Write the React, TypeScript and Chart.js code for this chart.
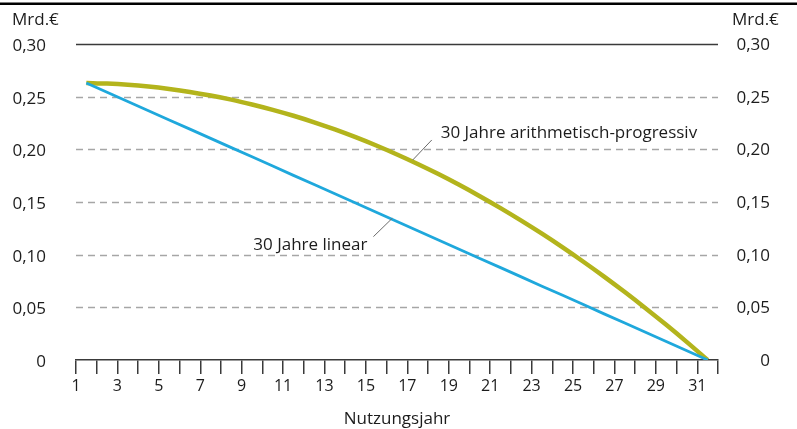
import React, { useEffect, useRef } from "react";
import { Chart, registerables } from "chart.js";

Chart.register(...registerables);

// ---- data ----
const years = [
  1.5, 2.5, 3.5, 4.5, 5.5, 6.5, 7.5, 8.5, 9.5, 10.5, 11.5, 12.5, 13.5, 14.5, 15.5, 16.5,
  17.5, 18.5, 19.5, 20.5, 21.5, 22.5, 23.5, 24.5, 25.5, 26.5, 27.5, 28.5, 29.5, 30.5, 31.5,
];
const linearValues = [
  0.263, 0.2542, 0.2455, 0.2367, 0.2279, 0.2192, 0.2104, 0.2016, 0.1929, 0.1841, 0.1753,
  0.1666, 0.1578, 0.149, 0.1403, 0.1315, 0.1227, 0.114, 0.1052, 0.0964, 0.0877, 0.0789,
  0.0701, 0.0614, 0.0526, 0.0438, 0.0351, 0.0263, 0.0175, 0.0088, 0,
];
const progressiveValues = [
  0.263, 0.2624, 0.2613, 0.2596, 0.2573, 0.2545, 0.2511, 0.2472, 0.2426, 0.2375, 0.2319,
  0.2257, 0.2189, 0.2115, 0.2036, 0.1951, 0.1861, 0.1765, 0.1663, 0.1555, 0.1442, 0.1323,
  0.1199, 0.1069, 0.0933, 0.0792, 0.0645, 0.0492, 0.0334, 0.017, 0,
];
const yTickValues = [0, 0.05, 0.1, 0.15, 0.2, 0.25, 0.3];
const xTickLabels = [1, 3, 5, 7, 9, 11, 13, 15, 17, 19, 21, 23, 25, 27, 29, 31];
const xMin = 1;
const xMax = 32;
const unitLabel = "Mrd.€";
const xTitle = "Nutzungsjahr";
const linearLabel = "30 Jahre linear";
const progressiveLabel = "30 Jahre arithmetisch-progressiv";

// annotation anchor points (data coordinates)
const linearTextAt = [9.56, 0.1044];
const linearLeader = [
  [15.36, 0.1171],
  [16.27, 0.1345],
];
const progressiveTextAt = [18.61, 0.2108];
const progressiveLeader = [
  [18.18, 0.2089],
  [17.26, 0.1899],
];

const FONT = "'Open Sans', 'DejaVu Sans', sans-serif";
const TEXT = "#1c1c1c";

const fmt = (v: number) => (Math.abs(v) < 1e-9 ? "0" : v.toFixed(2).replace(".", ","));

export default function App() {
  const ref = useRef<HTMLCanvasElement | null>(null);

  useEffect(() => {
    if (!ref.current) return;
    const yMax = yTickValues[yTickValues.length - 1];

    const overlay = {
      id: "overlay",
      beforeDatasetsDraw(chart: any) {
        const { ctx, chartArea, scales } = chart;
        const y = scales.y;
        ctx.save();
        yTickValues.forEach((v) => {
          if (v === 0) return;
          const py = Math.round(y.getPixelForValue(v)) + 0.5;
          ctx.beginPath();
          if (v === yMax) {
            ctx.setLineDash([]);
            ctx.strokeStyle = "#3a3a3a";
            ctx.lineWidth = 1.6;
          } else {
            ctx.setLineDash([7, 5]);
            ctx.strokeStyle = "#a6a6a6";
            ctx.lineWidth = 1.5;
          }
          ctx.moveTo(chartArea.left, py);
          ctx.lineTo(chartArea.right, py);
          ctx.stroke();
        });
        ctx.restore();
      },
      afterDatasetsDraw(chart: any) {
        const { ctx, scales, width } = chart;
        const x = scales.x;
        const y = scales.y;
        ctx.save();
        // leader lines
        ctx.strokeStyle = "#6a6a6a";
        ctx.lineWidth = 1;
        [linearLeader, progressiveLeader].forEach((seg) => {
          ctx.beginPath();
          ctx.moveTo(x.getPixelForValue(seg[0][0]), y.getPixelForValue(seg[0][1]));
          ctx.lineTo(x.getPixelForValue(seg[1][0]), y.getPixelForValue(seg[1][1]));
          ctx.stroke();
        });
        // labels
        ctx.fillStyle = TEXT;
        ctx.font = `17px ${FONT}`;
        ctx.textAlign = "left";
        ctx.textBaseline = "alphabetic";
        ctx.fillText(linearLabel, x.getPixelForValue(linearTextAt[0]), y.getPixelForValue(linearTextAt[1]));
        ctx.fillText(
          progressiveLabel,
          x.getPixelForValue(progressiveTextAt[0]),
          y.getPixelForValue(progressiveTextAt[1])
        );
        // unit labels
        ctx.fillText(unitLabel, 12, 25);
        ctx.fillText(unitLabel, 732, 25);
        // right-hand tick labels (mirror of the left axis)
        ctx.textAlign = "right";
        ctx.textBaseline = "middle";
        yTickValues.forEach((v) => {
          ctx.fillText(fmt(v), 770, y.getPixelForValue(v) + 1);
        });
        // top rule
        ctx.fillStyle = "#000";
        ctx.fillRect(0, 2.5, width, 2.5);
        ctx.restore();
      },
    };

    const chart = new Chart(ref.current, {
      type: "line",
      data: {
        datasets: [
          {
            label: linearLabel,
            data: years.map((yr, i) => ({ x: yr, y: linearValues[i] })),
            borderColor: "#1fa8dc",
            borderWidth: 2.8,
            pointRadius: 0,
            tension: 0,
          },
          {
            label: progressiveLabel,
            data: years.map((yr, i) => ({ x: yr, y: progressiveValues[i] })),
            borderColor: "#b3b41c",
            borderWidth: 4.5,
            pointRadius: 0,
            tension: 0.3,
          },
        ],
      },
      options: {
        animation: false,
        responsive: false,
        maintainAspectRatio: false,
        layout: { padding: { top: 44, left: 0, right: 0, bottom: 0 } },
        plugins: { legend: { display: false }, tooltip: { enabled: false }, title: { display: false } },
        scales: {
          x: {
            type: "linear",
            min: xMin,
            max: xMax,
            afterBuildTicks: (s: any) => {
              const t = [];
              for (let v = xMin; v <= xMax; v++) t.push({ value: v });
              s.ticks = t;
            },
            afterFit: (s: any) => {
              s.height = 69;
            },
            ticks: {
              autoSkip: false,
              maxRotation: 0,
              minRotation: 0,
              padding: 3,
              color: TEXT,
              font: { family: FONT, size: 16 },
              callback: (v: any) => (xTickLabels.includes(Number(v)) ? String(v) : ""),
            },
            grid: {
              display: true,
              drawOnChartArea: false,
              drawTicks: true,
              tickLength: 14,
              color: "#3a3a3a",
              lineWidth: 1.5,
            },
            border: { display: true, color: "#3a3a3a", width: 1.5 },
            title: {
              display: true,
              text: xTitle,
              color: TEXT,
              font: { family: FONT, size: 17 },
              padding: { top: 0, bottom: 0 },
            },
          },
          y: {
            position: "left",
            min: 0,
            max: yMax,
            afterBuildTicks: (s: any) => {
              s.ticks = yTickValues.map((v) => ({ value: v }));
            },
            afterFit: (s: any) => {
              s.width = 76;
            },
            ticks: {
              padding: 30,
              labelOffset: 2,
              color: TEXT,
              font: { family: FONT, size: 17 },
              callback: (v: any) => fmt(Number(v)),
            },
            grid: { display: false, drawTicks: false },
            border: { display: false },
          },
          y2: {
            position: "right",
            min: 0,
            max: yMax,
            afterBuildTicks: (s: any) => {
              s.ticks = yTickValues.map((v) => ({ value: v }));
            },
            afterFit: (s: any) => {
              s.width = 79;
            },
            ticks: { display: false },
            grid: { display: false, drawTicks: false },
            border: { display: false },
          },
        },
      } as any,
      plugins: [overlay],
    });

    return () => chart.destroy();
  }, []);

  return (
    <div style={{ position: "absolute", left: 0, top: 0, width: 797, height: 429, background: "#fff" }}>
      <canvas ref={ref} width={797} height={429} style={{ width: 797, height: 429, display: "block" }} />
    </div>
  );
}
